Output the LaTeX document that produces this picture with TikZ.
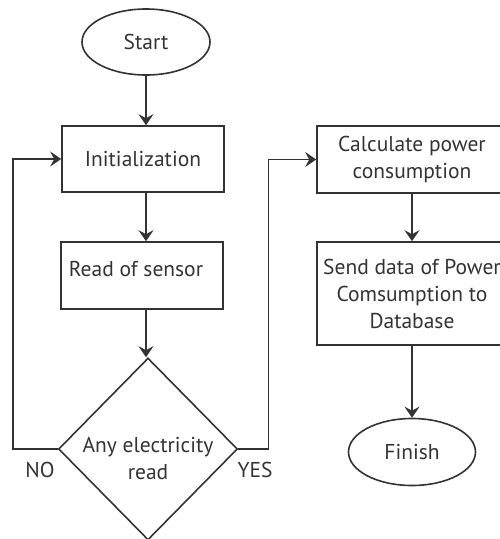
\documentclass[tikz,border=0pt]{standalone}
\usepackage{fontspec}
\setmainfont{PT Sans}
\usetikzlibrary{shapes.geometric, arrows.meta}

\definecolor{ink}{HTML}{333333}

\begin{document}
\begin{tikzpicture}[x=1pt, y=-1pt, >={Stealth[length=11pt, width=15pt, inset=4pt]},
  every node/.style={text=ink, font=\fontsize{21.5}{27}\selectfont, align=center},
  line/.style={draw=ink, line width=1.6pt},
  terminal/.style={line, ellipse, inner sep=0pt, minimum width=128pt, minimum height=66pt},
  process/.style={line, rectangle, inner sep=0pt, minimum width=162pt, minimum height=66pt},
  wideprocess/.style={process, minimum width=190pt},
  decision/.style={line, diamond, inner sep=0pt, minimum width=179pt, minimum height=182pt}]

\useasboundingbox (0,0) rectangle (500,539);
\clip (0,0) rectangle (500,539);

% left column
\node [terminal] (start) at (146,42) {Start};
\node [process] (init) at (143,159) {Initialization};
\node [process, minimum height=67pt] (read) at (142,275.5) {};
\node (readtxt) at (136,269) {Read of sensor};
\node [decision] (check) at (148,449) {};
\node (checktxt) at (148,458) {Any electricity\\read};

% right column
\node [wideprocess, minimum height=67pt] (calc) at (412,159.5) {Calculate power\\consumption};
\node [wideprocess, minimum height=103pt] (send) at (412,293.5) {Send data of Power\\Comsumption to\\Database};
\node [terminal, minimum width=127pt, minimum height=67pt] (finish) at (412,452) {Finish};

% straight arrows
\foreach \a/\b in {start/init, init/read, read/check}
  \draw [line, ->] (\a.south -| start) -- (\b.north -| start);
\foreach \a/\b in {calc/send, send/finish}
  \draw [line, ->] (\a) -- (\b);

% branches
\draw [line, ->] (check.west) -- ++(-45,0) |- (init.west);
\draw [line, ->] (check.east) -- ++(30,0) |- (calc.west);

\node (no) at (40,470) {NO};
\node (yes) at (255,470) {YES};

\end{tikzpicture}
\end{document}
